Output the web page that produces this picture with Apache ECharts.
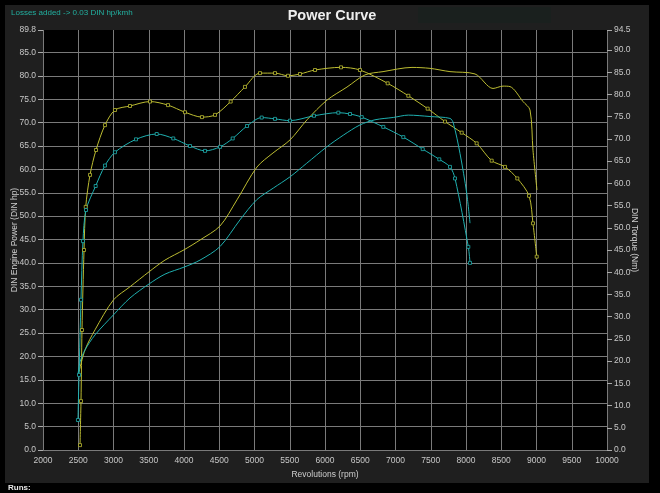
<!DOCTYPE html>
<html><head><meta charset="utf-8">
<script src="https://cdn.jsdelivr.net/npm/echarts@6/dist/echarts.min.js"></script>
<style>html,body{margin:0;padding:0;background:#000;}#c{width:660px;height:493px;}</style>
</head><body><div id="c"></div>
<script>
// ---- data ----
const rpmTicks = [2000, 10000, 500];
const powerAxis = [0, 89.8, 5];
const torqueAxis = [0, 94.5, 5];

// yellow run
const rpmPowerY = [2511,2596,2738,3000,3234,3504,3730,4000,4227,4511,4752,5035,5262,5504,5745,6028,6312,6567,6823,7234,7489,7773,8128,8383,8525,8624,8809,8908,8950,9007];
const powerY    = [16.7,21.4,25.7,32.1,34.9,38.1,40.6,42.8,44.9,47.9,53.5,60.5,63.5,66.3,70.6,74.8,77.6,80.2,80.9,81.8,81.6,80.9,80.4,77.3,77.8,77.7,74.5,72.7,64.1,55.6];
const rpmTorqueY = [2525,2539,2553,2582,2606,2667,2752,2879,3021,3234,3518,3773,4014,4255,4440,4662,4865,5078,5291,5475,5645,5858,6227,6496,6889,7182,7456,7702,7939,8151,8364,8553,8728,8894,8950,9003];
const torqueY    = [1.1,11,27,45,54.7,61.9,67.5,73.1,76.5,77.4,78.4,77.6,76.0,74.9,75.4,78.4,81.7,84.8,84.8,84.2,84.6,85.5,86.1,85.5,82.5,79.7,76.8,73.9,71.4,69.0,65.1,63.7,61.1,57.2,51,43.5];

// cyan run
const rpmPowerC = [2496,2525,2596,2738,3000,3234,3504,3730,4000,4227,4511,4794,5031,5267,5503,5740,6024,6259,6496,6709,6969,7182,7489,7773,7820,7915,8010,8057];
const powerC    = [16.0,18.8,21.4,24.6,28.9,32.5,35.5,37.6,39.1,40.6,43.5,49.2,53.5,56.0,58.4,61.3,64.8,67.3,69.5,70.6,71.1,71.6,71.3,70.9,69.9,63.4,54.9,48.5];
const rpmTorqueC = [2496,2511,2539,2567,2610,2747,2879,3021,3319,3613,3848,4085,4298,4511,4691,4894,5102,5291,5503,5844,6189,6355,6521,6827,7111,7386,7621,7773,7844,8033,8057];
const torqueC    = [6.75,16.9,33.8,47,54,59.4,64,67,69.9,71.1,70.1,68.4,67.3,68.2,70.1,72.9,74.8,74.5,74.1,75.2,75.9,75.6,74.9,72.7,70.4,67.7,65.4,63.7,61.1,45.7,42.1];

const pairs = (xs, ys) => xs.map((x, i) => [x, ys[i]]);
const YEL = '#bdbd32', CYA = '#1fb0b0';
const fmt = v => v.toFixed(1);
const labelFont = {color:'#c8c8c8', fontSize:8.5, fontFamily:'Liberation Sans, Arial, sans-serif'};

const chart = echarts.init(document.getElementById('c'), null, {renderer:'canvas'});
chart.setOption({
  backgroundColor:'#000',
  animation:false,
  graphic:[
    {type:'rect', shape:{x:5,y:5,width:644,height:478}, style:{fill:'#1f1f1f'}, z:-10},
    {type:'rect', shape:{x:418,y:7,width:133,height:16}, style:{fill:'#1a201e'}, z:-9},
    {type:'text', left:11, top:9, style:{text:'Losses added -> 0.03 DIN hp/kmh', fill:'#22b0a0', font:'8px Liberation Sans, Arial, sans-serif'}},
    {type:'text', left:8, top:484, style:{text:'Runs:', fill:'#e8e8e8', font:'bold 8px Liberation Sans, Arial, sans-serif'}}
  ],
  title:{text:'Power Curve', left:327, textAlign:'center', top:3,
    textStyle:{color:'#eeeeee', fontSize:14.5, fontWeight:'bold', fontFamily:'Liberation Sans, Arial, sans-serif'}},
  grid:{left:43, right:53, top:30, bottom:43, show:true, backgroundColor:'#000', borderWidth:0,
    containLabel:false, outerBoundsMode:'none'},
  xAxis:{type:'value', min:rpmTicks[0], max:rpmTicks[1], interval:rpmTicks[2],
    name:'Revolutions (rpm)', nameLocation:'middle', nameGap:19,
    nameTextStyle:{color:'#cfcfcf', fontSize:8.5, fontFamily:'Liberation Sans, Arial, sans-serif'},
    axisLine:{show:false}, axisTick:{show:false},
    axisLabel:Object.assign({margin:6, formatter:v => String(v)}, labelFont),
    splitLine:{show:true, lineStyle:{color:'#7a7a7a', width:1}}},
  yAxis:[
    {type:'value', position:'left', min:powerAxis[0], max:powerAxis[1], interval:powerAxis[2],
      name:'DIN Engine Power (DIN hp)', nameLocation:'middle', nameGap:24, nameMoveOverlap:false,
      nameTextStyle:{color:'#cfcfcf', fontSize:8.5, fontFamily:'Liberation Sans, Arial, sans-serif'},
      axisLine:{show:false}, axisTick:{show:true, length:5, lineStyle:{color:'#aaa'}},
      axisLabel:Object.assign({margin:7, formatter:fmt}, labelFont),
      splitLine:{show:true, showMaxLine:false, lineStyle:{color:'#7a7a7a', width:1}}},
    {type:'value', position:'right', min:torqueAxis[0], max:torqueAxis[1], interval:torqueAxis[2],
      name:'DIN Torque (Nm)', nameLocation:'middle', nameGap:23, nameRotate:-90, nameMoveOverlap:false,
      nameTextStyle:{color:'#cfcfcf', fontSize:8.5, fontFamily:'Liberation Sans, Arial, sans-serif'},
      axisLine:{show:false}, axisTick:{show:true, length:5, lineStyle:{color:'#aaa'}},
      axisLabel:Object.assign({margin:7, formatter:fmt}, labelFont),
      splitLine:{show:false}}
  ],
  series:[
    {type:'line', yAxisIndex:0, data:pairs(rpmPowerY, powerY), smooth:0.3, showSymbol:false,
      lineStyle:{color:YEL, width:1}, itemStyle:{color:YEL}},
    {type:'line', yAxisIndex:1, data:pairs(rpmTorqueY, torqueY), smooth:0.3, symbol:'rect', symbolSize:3,
      lineStyle:{color:YEL, width:1}, itemStyle:{color:'#000', borderColor:YEL, borderWidth:0.8}},
    {type:'line', yAxisIndex:0, data:pairs(rpmPowerC, powerC), smooth:0.3, showSymbol:false,
      lineStyle:{color:CYA, width:1}, itemStyle:{color:CYA}},
    {type:'line', yAxisIndex:1, data:pairs(rpmTorqueC, torqueC), smooth:0.3, symbol:'rect', symbolSize:3,
      lineStyle:{color:CYA, width:1}, itemStyle:{color:'#000', borderColor:CYA, borderWidth:0.8}}
  ]
});
</script></body></html>
